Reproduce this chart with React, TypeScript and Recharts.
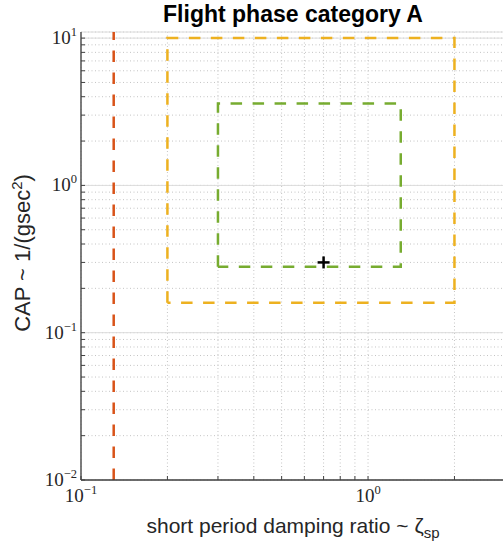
import React from 'react';
import { ComposedChart, Line, Scatter, XAxis, YAxis, CartesianGrid } from 'recharts';

// Level boundaries (log-log)
const level1X = [0.3, 0.3, 1.3, 1.3, 0.3];
const level1Y = [0.28, 3.6, 3.6, 0.28, 0.28];
const level2X = [0.2, 0.2, 2, 2, 0.2];
const level2Y = [0.16, 10, 10, 0.16, 0.16];
const level3X = [0.13, 0.13];
const level3Y = [0.01, 11];
const pointX = [0.7];
const pointY = [0.3];

// axes
const xMajor = [0.1, 1];
const xMinor = [0.2, 0.3, 0.4, 0.5, 0.6, 0.7, 0.8, 0.9, 2, 3];
const yMajor = [0.01, 0.1, 1, 10];
const yMinor = [
  0.02, 0.03, 0.04, 0.05, 0.06, 0.07, 0.08, 0.09,
  0.2, 0.3, 0.4, 0.5, 0.6, 0.7, 0.8, 0.9,
  2, 3, 4, 5, 6, 7, 8, 9,
];
const xTicks = [...xMajor, ...xMinor].sort((a, b) => a - b);
const yTicks = [...yMajor, ...yMinor].sort((a, b) => a - b);

const zip = (xs: number[], ys: number[]) => xs.map((x, i) => ({ x, y: ys[i] }));

const level1 = zip(level1X, level1Y);
const level2 = zip(level2X, level2Y);
const level3 = zip(level3X, level3Y);
const points = zip(pointX, pointY);

const AXIS = '#404040';
const TXT = '#262626';
const SERIF = '"Liberation Serif", "Times New Roman", serif';
const SANS = '"Liberation Sans", Arial, Helvetica, sans-serif';

const expText = (v: number) => {
  const e = Math.round(Math.log10(v));
  return e < 0 ? '\u2212' + Math.abs(e) : String(e);
};

const YTick = (props: any) => {
  const { x, y, payload } = props;
  const major = yMajor.includes(payload.value);
  return (
    <g>
      <line x1={x} x2={x + 4} y1={y} y2={y} stroke={AXIS} strokeWidth={1} />
      {major && (
        <text x={x - 4} y={y + 6} textAnchor="end" fontFamily={SERIF} fontSize={19} fill={TXT}>
          10<tspan dy={-8} fontSize={12.5}>{expText(payload.value)}</tspan>
        </text>
      )}
    </g>
  );
};

const XTick = (props: any) => {
  const { x, y, payload } = props;
  const major = xMajor.includes(payload.value);
  return (
    <g>
      <line x1={x} x2={x} y1={y} y2={y - 4} stroke={AXIS} strokeWidth={1} />
      {major && (
        <text x={x} y={y + 22} textAnchor="middle" fontFamily={SERIF} fontSize={19} fill={TXT}>
          10<tspan dy={-8} fontSize={12.5}>{expText(payload.value)}</tspan>
        </text>
      )}
    </g>
  );
};

const TopTick = (props: any) => {
  const { x, y } = props;
  return <line x1={x} x2={x} y1={y} y2={y + 4} stroke="#262626" strokeWidth={1} />;
};

const PlusShape = (props: any) => {
  const { cx, cy } = props;
  return (
    <g>
      <line x1={cx - 6} x2={cx + 6} y1={cy} y2={cy} stroke="#000" strokeWidth={2.5} />
      <line x1={cx} x2={cx} y1={cy - 6} y2={cy + 6} stroke="#000" strokeWidth={2.5} />
    </g>
  );
};

const dash = '11.5 10.5';

export default function App() {
  return (
    <div style={{ position: 'absolute', left: 0, top: 0, width: 503, height: 550, overflow: 'hidden', background: '#fff' }}>
      <ComposedChart width={506} height={550} margin={{ top: 32, right: 1, bottom: 0, left: 0 }}>
        <CartesianGrid stroke="#c4c4c4" strokeDasharray="1 2.5" />
        <CartesianGrid xAxisId="major" yAxisId="major" stroke="#dcdcdc" />
        <XAxis
          dataKey="x"
          type="number"
          scale="log"
          domain={[0.1, 3]}
          allowDataOverflow
          ticks={xTicks}
          interval={0}
          height={70}
          tickSize={0}
          tickMargin={0}
          tickLine={false}
          tick={<XTick />}
          axisLine={{ stroke: AXIS, strokeWidth: 1.3 }}
        />
        <XAxis
          xAxisId="major"
          hide
          type="number"
          scale="log"
          domain={[0.1, 3]}
          allowDataOverflow
          ticks={xMajor}
          interval={0}
        />
        <XAxis
          xAxisId="top"
          orientation="top"
          type="number"
          scale="log"
          domain={[0.1, 3]}
          allowDataOverflow
          ticks={xTicks}
          interval={0}
          height={0}
          tickSize={0}
          tickMargin={0}
          tickLine={false}
          tick={<TopTick />}
          axisLine={{ stroke: '#262626', strokeWidth: 1.3 }}
        />
        <YAxis
          dataKey="y"
          type="number"
          scale="log"
          domain={[0.01, 11]}
          allowDataOverflow
          ticks={yTicks}
          interval={0}
          width={81}
          tickSize={0}
          tickMargin={0}
          tickLine={false}
          tick={<YTick />}
          axisLine={{ stroke: AXIS, strokeWidth: 1.3 }}
        />
        <YAxis
          yAxisId="major"
          hide
          type="number"
          scale="log"
          domain={[0.01, 11]}
          allowDataOverflow
          ticks={yMajor}
          interval={0}
        />
        <Line data={level3} dataKey="y" stroke="#D95319" strokeWidth={2.5} strokeDasharray={dash} dot={false} isAnimationActive={false} />
        <Line data={level2} dataKey="y" stroke="#EDB120" strokeWidth={2.5} strokeDasharray={dash} dot={false} isAnimationActive={false} />
        <Line data={level1} dataKey="y" stroke="#77AC30" strokeWidth={2.5} strokeDasharray={dash} dot={false} isAnimationActive={false} />
        <Scatter data={points} dataKey="y" shape={<PlusShape />} isAnimationActive={false} />
      </ComposedChart>
      <svg width={503} height={550} style={{ position: 'absolute', left: 0, top: 0, pointerEvents: 'none' }}>
        <text x={293} y={22} textAnchor="middle" fontFamily={SANS} fontWeight="bold" fontSize={23} fill="#000">
          Flight phase category A
        </text>
        <text x={293} y={533} textAnchor="middle" fontFamily={SANS} fontSize={21} fill={TXT}>
          short period damping ratio ~ ζ<tspan dy={5} fontSize={15}>sp</tspan>
        </text>
        <text transform="translate(30,253) rotate(-90)" textAnchor="middle" fontFamily={SANS} fontSize={22} fill={TXT}>
          CAP ~ 1/(gsec<tspan dy={-8} fontSize={15}>2</tspan><tspan dy={8}>)</tspan>
        </text>
      </svg>
    </div>
  );
}
